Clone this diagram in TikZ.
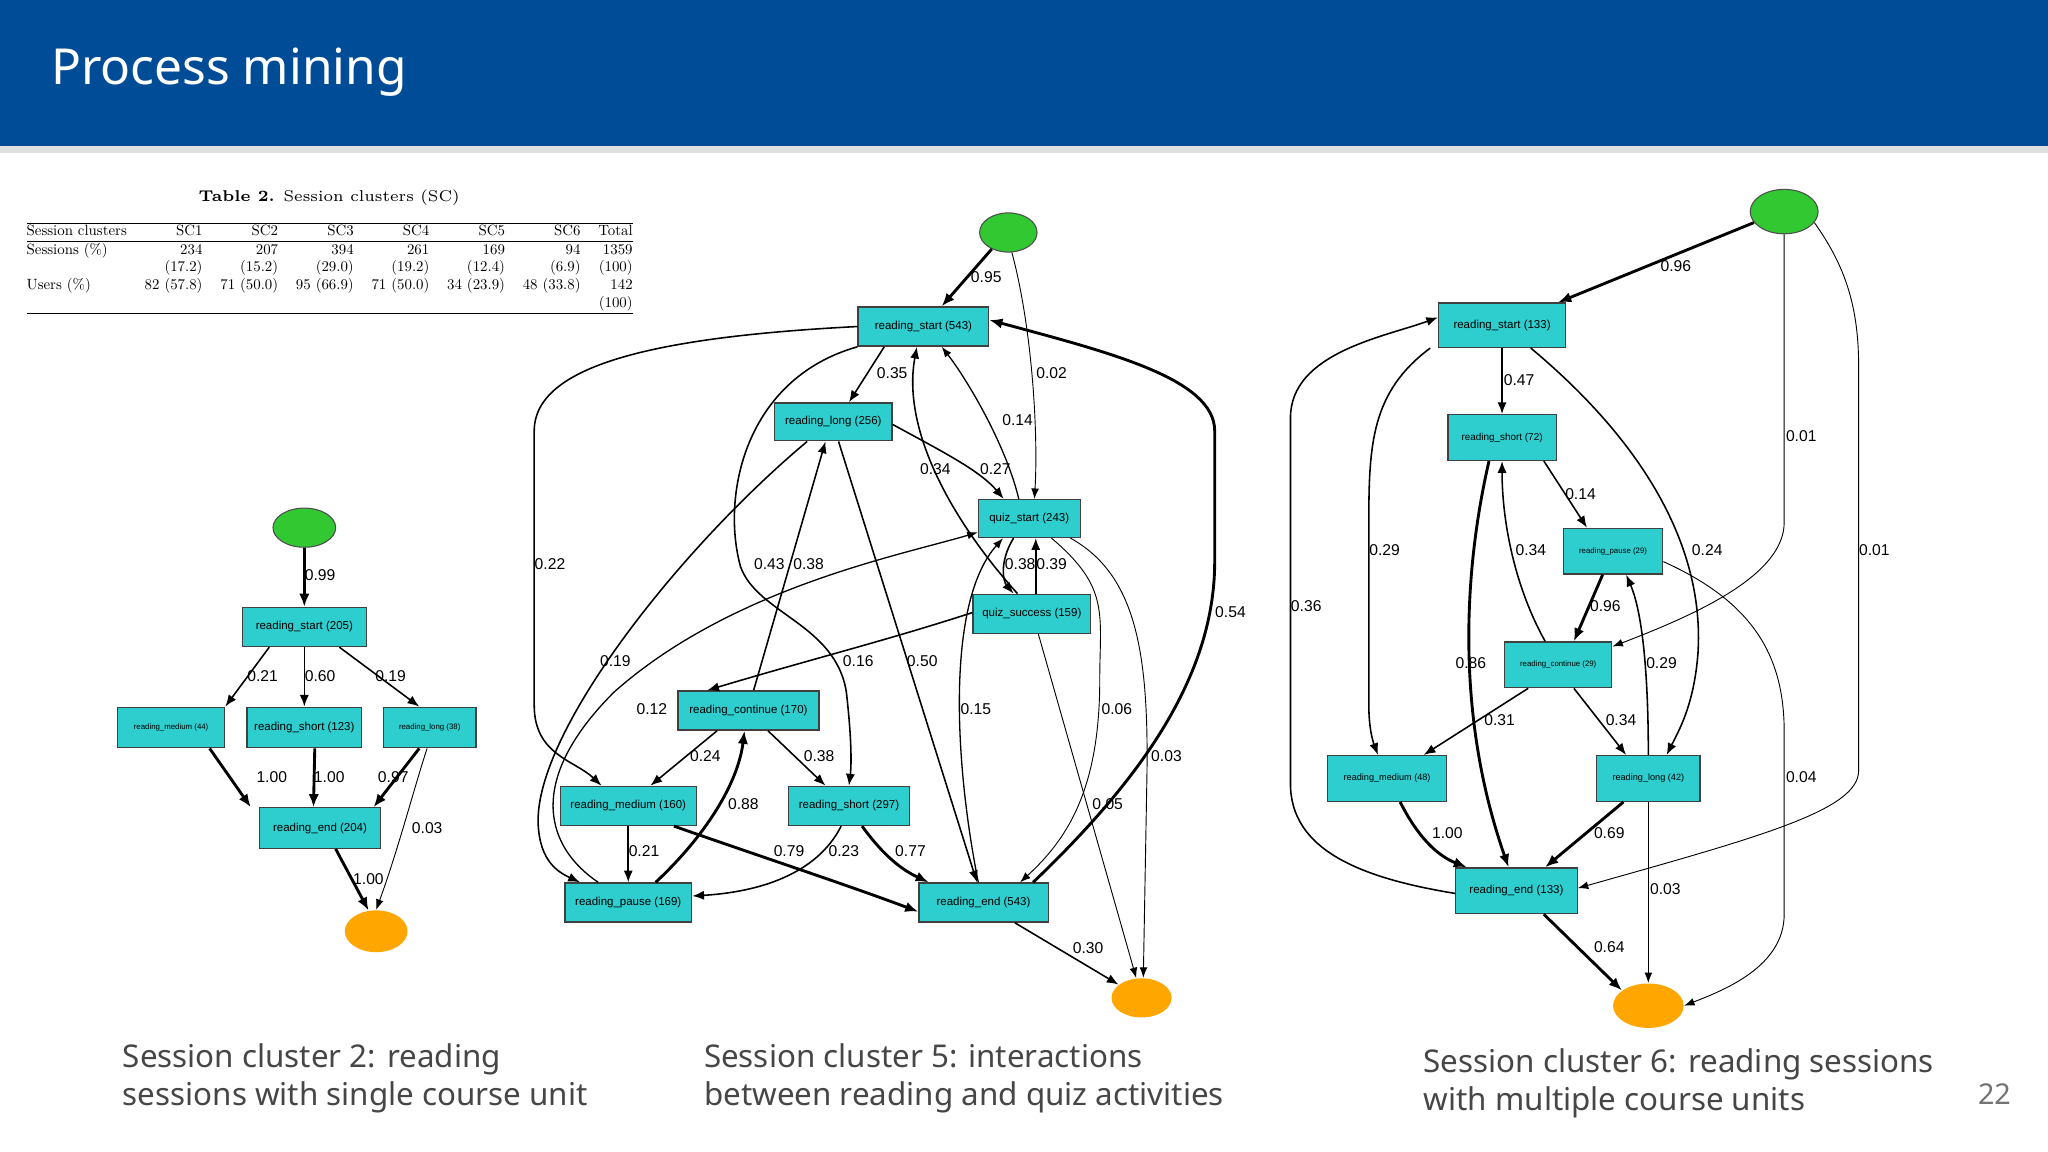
\documentclass[tikz,border=0pt]{standalone}
\usepackage{fontspec}
\setsansfont{Liberation Sans}
\newfontfamily\uifont{Noto Sans}
\usetikzlibrary{arrows.meta,shapes.geometric}
\definecolor{hdr}{RGB}{0,76,151}
\definecolor{nodec}{RGB}{46,206,206}
\definecolor{grn}{RGB}{50,200,50}
\definecolor{org}{RGB}{255,166,0}
\definecolor{cap}{RGB}{70,70,70}
\newcounter{lb}
\newcommand\lbl[2]{\stepcounter{lb}\node[lab] (lab\arabic{lb}) at (#1) {#2};}
\tikzset{
  bx/.style={draw=black!75,fill=nodec,line width=0.5pt,inner sep=0pt,font=\sffamily\fontsize{4.4}{5}\selectfont},
  sbx/.style={bx,font=\sffamily\fontsize{3}{4}\selectfont},
  st/.style={ellipse,draw=black!70,fill=grn,line width=0.4pt},
  en/.style={ellipse,fill=org,draw=none},
  lab/.style={anchor=west,inner sep=0pt,font=\sffamily\fontsize{6}{7}\selectfont},
  e/.style={-{Latex[length=4.5pt,width=3.5pt]},line width=0.6pt},
  th/.style={-{Latex[length=5pt,width=4pt]},line width=1.1pt},
  tn/.style={-{Latex[length=4pt,width=3pt]},line width=0.35pt},
}
\begin{document}
\begin{tikzpicture}[x=0.5pt,y=-0.5pt]
\useasboundingbox (0,0) rectangle (1568,882);
\fill[white] (0,0) rectangle (1568,882);
\fill[black!12] (0,112) rectangle (1568,117);
\fill[hdr] (0,0) rectangle (1568,112);
\node[anchor=west,text=white,font=\uifont\fontsize{19}{22}\selectfont] (title) at (32,55) {Process mining};
\node[text=black!55,font=\uifont\fontsize{11}{13}\selectfont] (pg) at (1527,838) {22};
% table
\node[font=\fontsize{6}{7}\selectfont] (tcap) at (252,151) {\textbf{Table 2.} Session clusters (SC)};
\node[anchor=north west,inner sep=0pt] (tab) at (20,170) {\resizebox{232pt}{!}{\begin{tabular}{@{}lrrrrrrr@{}}
\hline
Session clusters & SC1 & SC2 & SC3 & SC4 & SC5 & SC6 & Total\\ \hline
Sessions (\%) & 234 & 207 & 394 & 261 & 169 & 94 & 1359\\
 & (17.2) & (15.2) & (29.0) & (19.2) & (12.4) & (6.9) & (100)\\
Users (\%) & 82 (57.8) & 71 (50.0) & 95 (66.9) & 71 (50.0) & 34 (23.9) & 48 (33.8) & 142\\
 & & & & & & & (100)\\ \hline
\end{tabular}}};
% captions
\node[anchor=north west,align=left,text=cap,font=\uifont\fontsize{12}{14.5}\selectfont] (c2) at (87,792) {Session cluster 2: reading\\sessions with single course unit};
\node[anchor=north west,align=left,text=cap,font=\uifont\fontsize{12}{14.5}\selectfont] (c5) at (532,792) {Session cluster 5: interactions\\between reading and quiz activities};
\node[anchor=north west,align=left,text=cap,font=\uifont\fontsize{12}{14.5}\selectfont] (c6) at (1083,796) {Session cluster 6: reading sessions\\with multiple course units};

% ===== SC2 =====
\node[st,minimum width=24pt,minimum height=15pt] (s2) at (233,404) {};
\node[bx,minimum width=47.5pt,minimum height=15pt] (b2rs) at (233,480) {reading\_start (205)};
\node[sbx,minimum width=41pt,minimum height=15.5pt] (b2rm) at (131,557) {reading\_medium (44)};
\node[bx,minimum width=44pt,minimum height=15.5pt] (b2rsh) at (233,557) {reading\_short (123)};
\node[sbx,minimum width=35.5pt,minimum height=15.5pt] (b2rl) at (329,557) {reading\_long (38)};
\node[bx,minimum width=46.5pt,minimum height=15.5pt] (b2re) at (245,634) {reading\_end (204)};
\node[en,minimum width=24pt,minimum height=16pt] (e2) at (288,713) {};
\draw[th] (s2) -- (b2rs);
\draw[e] (b2rs.-150) -- (b2rm.north east);
\draw[e] (b2rs.south) -- (b2rsh.north);
\draw[e] (b2rs.-30) -- ([xshift=-4pt]b2rl.north);
\draw[th] ([xshift=-6pt]b2rm.south east) -- ([xshift=-3pt]b2re.north west);
\draw[th] ([xshift=4pt]b2rsh.south) -- ([xshift=-2.5pt]b2re.north);
\draw[th] ([xshift=-4pt]b2rl.south) -- ([xshift=-3pt]b2re.north east);
\draw[tn] ([xshift=-1pt]b2rl.south) .. controls (318,600) and (305,650) .. (e2.north);
\draw[th] ([xshift=6pt]b2re.south) -- (e2.110);
\lbl{233,440}{0.99}\lbl{189,518}{0.21}\lbl{233,518}{0.60}\lbl{287,518}{0.19}
\lbl{196,595}{1.00}\lbl{240,595}{1.00}\lbl{289,595}{0.97}\lbl{315,634}{0.03}\lbl{270,673}{1.00}

% ===== SC5 =====
\node[st,minimum width=22pt,minimum height=15pt] (s5) at (772,178) {};
\node[bx,minimum width=50pt,minimum height=15pt] (b5rs) at (707,250) {reading\_start (543)};
\node[bx,minimum width=45pt,minimum height=14.5pt] (b5rl) at (638,323) {reading\_long (256)};
\node[bx,minimum width=39pt,minimum height=14.5pt] (b5qs) at (788,397) {quiz\_start (243)};
\node[bx,minimum width=45pt,minimum height=15pt] (b5qsu) at (790,470) {quiz\_success (159)};
\node[bx,minimum width=54pt,minimum height=15pt] (b5rc) at (573,544) {reading\_continue (170)};
\node[bx,minimum width=52pt,minimum height=15pt] (b5rm) at (481,617) {reading\_medium (160)};
\node[bx,minimum width=46.5pt,minimum height=15pt] (b5rsh) at (650,617) {reading\_short (297)};
\node[bx,minimum width=48.5pt,minimum height=15pt] (b5rp) at (481,691) {reading\_pause (169)};
\node[bx,minimum width=49.5pt,minimum height=15pt] (b5re) at (753,691) {reading\_end (543)};
\node[en,minimum width=23pt,minimum height=15pt] (e5) at (874,764) {};
\draw[th] (s5.225) -- ([xshift=7pt]b5rs.north);
\draw[tn] (s5.-80) .. controls (790,250) and (795,330) .. ([xshift=2pt]b5qs.north);
\draw[e] ([xshift=-15pt]b5rs.south) -- ([xshift=6pt]b5rl.north);
\draw[e] (b5rs.west) .. controls (500,258) and (409,280) .. (409,330) -- (409,540) .. controls (409,578) and (440,582) .. ([xshift=16pt]b5rm.north west);
\draw[e] (b5rs.south west) .. controls (570,290) and (552,380) .. (567,434) .. controls (580,470) and (640,478) .. (648,530) .. controls (652,565) and (652,585) .. (b5rsh.north);
\draw[e] ([xshift=2pt]b5rc.north) -- ([xshift=-3pt]b5rl.south);
\draw[e] ([xshift=-10pt]b5rl.south) .. controls (520,420) and (410,560) .. (412,630) .. controls (413,660) and (428,668) .. ([xshift=6pt]b5rp.north west);
\draw[tn,line width=0.5pt] ([xshift=13pt]b5rp.north west) .. controls (420,650) and (400,600) .. (470,530) .. controls (560,450) and (690,425) .. (b5qs.195);
\draw[e] ([xshift=2pt]b5rl.south) -- ([xshift=-2.5pt]b5re.north);
\draw[e] ([yshift=-1pt]b5rl.east) .. controls (720,345) and (750,360) .. ([xshift=10pt]b5qs.north west);
\draw[tn,line width=0.5pt] ([xshift=-4pt]b5qs.north) .. controls (770,340) and (740,290) .. ([xshift=7pt]b5rs.south);
\draw[e] ([xshift=-5.5pt]b5qsu.north) .. controls (730,400) and (690,330) .. ([xshift=-2.5pt]b5rs.south);
\draw[e] ([xshift=-6pt]b5qs.south) .. controls (765,430) and (768,445) .. ([xshift=-7pt]b5qsu.north);
\draw[e] ([xshift=1.5pt]b5qsu.north) -- ([xshift=2.5pt]b5qs.south);
\draw[e] ([yshift=0.5pt]b5qsu.west) .. controls (680,490) and (620,505) .. ([xshift=11.5pt]b5rc.south west |- b5rc.north);
\draw[e] ([xshift=-12pt]b5rc.south) -- ([xshift=8.5pt]b5rm.north);
\draw[e] ([xshift=7.5pt]b5rc.south) -- ([xshift=-9pt]b5rsh.north);
\draw[e] (b5rm.south) -- (b5rp.north);
\draw[th] ([xshift=17.5pt]b5rm.south) .. controls (580,655) and (650,678) .. ([yshift=-3.5pt]b5re.west);
\draw[th] ([xshift=10.5pt]b5rp.north) .. controls (540,640) and (565,600) .. ([xshift=-1.5pt]b5rc.south);
\draw[e] ([xshift=-3pt]b5rsh.south) .. controls (625,670) and (580,683) .. ([yshift=2.5pt]b5rp.east);
\draw[th] ([xshift=5pt]b5rsh.south) .. controls (680,660) and (695,668) .. ([xshift=4pt]b5re.north west);
\draw[tn,line width=0.5pt] ([xshift=-2pt]b5re.north) .. controls (730,580) and (725,460) .. ([xshift=-10pt]b5qs.south);
\draw[tn] ([xshift=8.5pt]b5qs.south) .. controls (850,450) and (842,470) .. (842,520) .. controls (842,600) and (820,640) .. ([xshift=-11pt]b5re.north east);
\draw[tn] ([xshift=-4pt]b5qs.south east) .. controls (870,440) and (880,500) .. (878,600) -- (e5.85);
\draw[tn] ([xshift=2.5pt]b5qsu.south) -- (e5.105);
\draw[th] ([xshift=-6pt]b5re.north east) .. controls (870,600) and (930,520) .. (930,430) -- (930,330) .. controls (930,290) and (850,270) .. ([yshift=2.5pt]b5rs.east);
\draw[e] ([xshift=12pt]b5re.south) -- (e5.150);
\lbl{743,212}{0.95}\lbl{793,286}{0.02}\lbl{671,286}{0.35}\lbl{767,322}{0.14}
\lbl{704,359}{0.34}\lbl{750,359}{0.27}\lbl{409,432}{0.22}\lbl{577,432}{0.43}
\lbl{607,432}{0.38}\lbl{769,432}{0.38}\lbl{793,432}{0.39}\lbl{930,469}{0.54}
\lbl{459,506}{0.19}\lbl{645,506}{0.16}\lbl{694,506}{0.50}\lbl{487,543}{0.12}
\lbl{735,543}{0.15}\lbl{843,543}{0.06}\lbl{528,579}{0.24}\lbl{615,579}{0.38}
\lbl{881,579}{0.03}\lbl{557,616}{0.88}\lbl{836,616}{0.05}\lbl{481,652}{0.21}
\lbl{592,652}{0.79}\lbl{634,652}{0.23}\lbl{685,652}{0.77}\lbl{821,726}{0.30}

% ===== SC6 =====
\node[st,minimum width=26pt,minimum height=17pt] (s6) at (1366,162) {};
\node[bx,minimum width=48.5pt,minimum height=17pt] (b6rs) at (1150,249) {reading\_start (133)};
\node[sbx,font=\sffamily\fontsize{3.8}{4.5}\selectfont,minimum width=41.5pt,minimum height=17.5pt] (b6rsh) at (1150,335) {reading\_short (72)};
\node[sbx,minimum width=38pt,minimum height=17.5pt] (b6rp) at (1235,422) {reading\_pause (29)};
\node[sbx,minimum width=41pt,minimum height=17.5pt] (b6rc) at (1193,509) {reading\_continue (29)};
\node[sbx,font=\sffamily\fontsize{3.5}{4.5}\selectfont,minimum width=45.5pt,minimum height=17.5pt] (b6rm) at (1062,596) {reading\_medium (48)};
\node[sbx,font=\sffamily\fontsize{3.5}{4.5}\selectfont,minimum width=39.5pt,minimum height=17.5pt] (b6rl) at (1262,596) {reading\_long (42)};
\node[bx,minimum width=46.5pt,minimum height=17.5pt] (b6re) at (1161,682) {reading\_end (133)};
\node[en,minimum width=27pt,minimum height=17pt] (e6) at (1262,770) {};
\draw[th] (s6.200) -- ([xshift=-3pt]b6rs.north east);
\draw[e] (b6rs.south) -- (b6rsh.north);
\draw[e] ([xshift=-3pt]b6rs.south west) .. controls (1050,300) and (1048,340) .. (1048,400) -- (1048,540) .. controls (1048,560) and (1052,570) .. ([xshift=-3.5pt]b6rm.north);
\draw[e] ([yshift=-1pt]b6re.west) .. controls (1040,672) and (988,650) .. (988,600) -- (988,320) .. controls (988,270) and (1060,258) .. ([yshift=3pt]b6rs.west);
\draw[e] ([xshift=11pt]b6rs.south) .. controls (1260,340) and (1305,420) .. (1300,500) .. controls (1297,540) and (1285,560) .. ([xshift=7pt]b6rl.north);
\draw[tn] (s6.south) -- (1366,400) .. controls (1366,440) and (1300,470) .. ([yshift=-2pt]b6rc.north east);
\draw[tn] (s6.-20) .. controls (1410,200) and (1423,230) .. (1423,280) -- (1423,590) .. controls (1423,620) and (1350,640) .. ([yshift=1pt]b6re.east);
\draw[e] ([xshift=-5pt]b6rsh.south east) -- ([xshift=-10pt]b6rp.north);
\draw[th] ([xshift=-4pt]b6rp.south) -- ([xshift=6pt]b6rc.north);
\draw[e] ([xshift=-5pt]b6rc.north) .. controls (1160,450) and (1150,400) .. (b6rsh.south);
\draw[th] ([xshift=-5pt]b6rsh.south) .. controls (1120,440) and (1115,550) .. ([xshift=-3pt]b6re.north);
\draw[e] ([xshift=-11.5pt]b6rc.south) -- ([xshift=-9pt]b6rm.north east);
\draw[e] ([xshift=6pt]b6rc.south) -- ([xshift=-8.5pt]b6rl.north);
\draw[e] (b6rl.north) .. controls (1262,520) and (1258,470) .. ([xshift=5pt]b6rp.south);
\draw[tn] ([yshift=-4pt]b6rp.east) .. controls (1340,460) and (1366,500) .. (1366,560) -- (1366,700) .. controls (1366,740) and (1320,758) .. (e6.east);
\draw[th] ([xshift=5pt]b6rm.south) .. controls (1085,640) and (1100,655) .. ([xshift=-19pt]b6re.north);
\draw[th] ([xshift=-9.5pt]b6rl.south) -- ([xshift=11pt]b6re.north);
\draw[tn] (b6rl.south) -- (e6.north);
\draw[th] ([xshift=10.5pt]b6re.south) -- (e6.150);
\lbl{1271,204}{0.96}\lbl{1151,291}{0.47}\lbl{1367,334}{0.01}\lbl{1198,378}{0.14}
\lbl{1048,421}{0.29}\lbl{1160,421}{0.34}\lbl{1295,421}{0.24}\lbl{1423,421}{0.01}
\lbl{988,464}{0.36}\lbl{1217,464}{0.96}\lbl{1114,508}{0.86}\lbl{1260,508}{0.29}
\lbl{1136,551}{0.31}\lbl{1229,551}{0.34}\lbl{1367,595}{0.04}\lbl{1096,638}{1.00}
\lbl{1220,638}{0.69}\lbl{1263,681}{0.03}\lbl{1220,725}{0.64}
\end{tikzpicture}
\end{document}
